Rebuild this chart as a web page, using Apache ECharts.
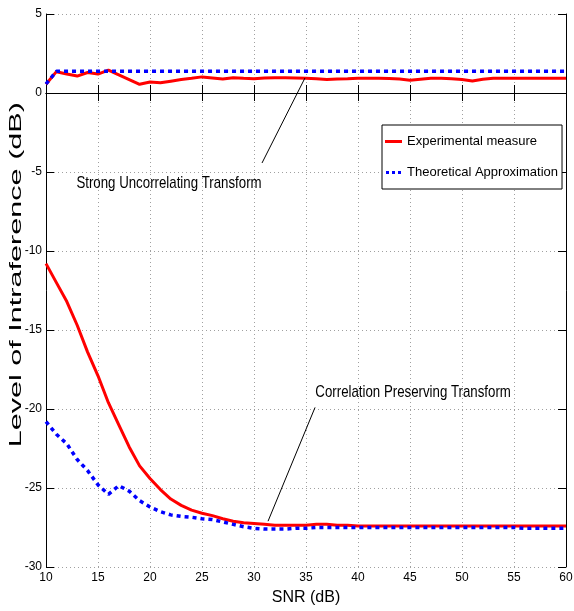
<!DOCTYPE html>
<html>
<head>
<meta charset="utf-8">
<script src="https://cdn.jsdelivr.net/npm/echarts@6/dist/echarts.min.js"></script>
<style>
  html, body { margin: 0; padding: 0; background: #fff; }
  #chart { width: 574px; height: 611px; }
</style>
</head>
<body>
<div id="chart"></div>
<script>
// SNR values 10..60 dB
const snr = [10,11,12,13,14,15,16,17,18,19,20,21,22,23,24,25,26,27,28,29,30,
  31,32,33,34,35,36,37,38,39,40,41,42,43,44,45,46,47,48,49,50,
  51,52,53,54,55,56,57,58,59,60];

// strong uncorrelating transform
const expSUT = [0.55,1.35,1.2,1.07,1.3,1.2,1.45,1.15,0.85,0.55,0.7,0.65,0.75,0.85,0.93,1.02,0.95,0.88,0.97,0.93,0.9,
  0.95,0.97,0.97,0.95,0.93,0.9,0.86,0.88,0.9,0.93,0.93,0.93,0.92,0.88,0.8,0.87,0.93,0.93,0.9,0.85,
  0.76,0.87,0.93,0.93,0.93,0.94,0.93,0.94,0.94,0.94];
const theoSUT = [0.57,1.37,1.37,1.37,1.37,1.37,1.37,1.37,1.37,1.37,1.37,1.37,1.37,1.37,1.37,1.37,1.37,1.37,1.37,1.37,1.37,
  1.37,1.37,1.37,1.37,1.37,1.37,1.37,1.37,1.37,1.37,1.37,1.37,1.37,1.37,1.37,1.37,1.37,1.37,1.37,1.37,
  1.37,1.37,1.37,1.37,1.37,1.37,1.37,1.37,1.37,1.37];

// correlation preserving transform
const expCPT = [-10.8,-12.0,-13.2,-14.7,-16.4,-17.9,-19.6,-21.0,-22.4,-23.6,-24.4,-25.1,-25.7,-26.1,-26.4,-26.6,-26.75,-26.95,-27.1,-27.2,-27.25,
  -27.3,-27.35,-27.35,-27.35,-27.35,-27.3,-27.3,-27.35,-27.35,-27.4,-27.4,-27.4,-27.4,-27.4,-27.4,-27.4,-27.4,-27.4,-27.4,-27.4,
  -27.4,-27.4,-27.4,-27.4,-27.4,-27.4,-27.4,-27.4,-27.4,-27.4];
const theoCPT = [-20.8,-21.6,-22.2,-23.2,-23.9,-24.8,-25.4,-24.85,-25.2,-25.8,-26.2,-26.5,-26.7,-26.8,-26.85,-26.95,-27.0,-27.15,-27.3,-27.45,-27.55,
  -27.6,-27.6,-27.6,-27.55,-27.55,-27.5,-27.5,-27.5,-27.5,-27.5,-27.5,-27.5,-27.5,-27.5,-27.5,-27.5,-27.5,-27.5,-27.5,-27.5,
  -27.5,-27.5,-27.5,-27.5,-27.5,-27.55,-27.55,-27.55,-27.55,-27.55];

const xTicks = [10,15,20,25,30,35,40,45,50,55,60];
const yTicks = [5,0,-5,-10,-15,-20,-25,-30];

// text notes and where their arrows point (data coords)
const notes = [
  { text: 'Strong Uncorrelating Transform', at: [21.83, -5.7], from: [30.77, -4.43], to: [34.9, 0.95] },
  { text: 'Correlation Preserving Transform', at: [45.3, -18.92], from: [35.87, -19.9], to: [31.35, -27.1] }
];

const FONT = "'Liberation Sans', Arial, sans-serif";
const RED = '#ff0000';
const BLUE = '#0000ff';

const pair = (ys) => snr.map((x, i) => [x, ys[i]]);

const chart = echarts.init(document.getElementById('chart'), null, { renderer: 'canvas' });

const gridLine = { show: true, lineStyle: { color: '#a0a0a0', type: [1, 3], width: 1 } };
const tick = { show: true, inside: true, length: 8, lineStyle: { color: '#000' } };

const option = {
  animation: false,
  backgroundColor: '#fff',
  grid: { left: 46, right: 8, top: 14, bottom: 44, outerBoundsMode: 'none', containLabel: false },
  legend: {
    orient: 'vertical',
    left: 382,
    top: 125,
    backgroundColor: '#fff',
    borderColor: '#000',
    borderWidth: 1,
    borderRadius: 0,
    padding: [10, 4, 10, 3],
    itemGap: 18,
    itemWidth: 17,
    itemHeight: 3,
    textStyle: { fontFamily: FONT, fontSize: 13, color: '#000' },
    data: [
      { name: 'Experimental measure', icon: 'rect' },
      { name: 'Theoretical Approximation', icon: 'path://M0 0H3V3H0Z M6 0H9V3H6Z M12 0H15V3H12Z' }
    ]
  },
  xAxis: [{
    type: 'value', min: 10, max: 60, interval: 5,
    name: 'SNR (dB)', nameLocation: 'middle', nameGap: 23, nameMoveOverlap: false,
    nameTextStyle: { fontFamily: FONT, fontSize: 16, color: '#000' },
    axisLine: { lineStyle: { color: '#000', width: 1 } },
    axisTick: tick,
    axisLabel: { fontFamily: FONT, fontSize: 12, color: '#000', margin: 5,
      formatter: v => xTicks.includes(v) ? String(v) : '' },
    splitLine: gridLine
  }, {
    type: 'value', min: 10, max: 60, interval: 5, position: 'top',
    axisLine: { lineStyle: { color: '#000', width: 1 } },
    axisTick: tick,
    axisLabel: { show: false }, splitLine: { show: false }
  }],
  yAxis: [{
    type: 'value', min: -30, max: 5, interval: 5,
    axisLine: { lineStyle: { color: '#000', width: 1 } },
    axisTick: tick,
    axisLabel: { fontFamily: FONT, fontSize: 12, color: '#000', margin: 4,
      formatter: v => yTicks.includes(v) ? String(v) : '' },
    splitLine: gridLine
  }, {
    type: 'value', min: -30, max: 5, interval: 5, position: 'right',
    axisLine: { show: true, lineStyle: { color: '#000', width: 1 } },
    axisTick: tick,
    axisLabel: { show: false }, splitLine: { show: false }
  }],
  series: [
    {
      name: 'Experimental measure', type: 'line', data: pair(expSUT),
      symbol: 'none', lineStyle: { color: RED, width: 3 }, itemStyle: { color: RED },
      z: 3,
      markLine: {
        silent: true, animation: false,
        symbol: ['none', 'arrow'], symbolSize: [0, 9],
        label: { show: false },
        lineStyle: { color: '#000', width: 1, type: 'solid' },
        data: notes.map(n => [{ coord: n.from }, { coord: n.to }])
      }
    },
    {
      name: 'Theoretical Approximation', type: 'line', data: pair(theoSUT),
      symbol: 'none', lineStyle: { color: BLUE, width: 3.5, type: [4, 4] }, itemStyle: { color: BLUE },
      z: 4
    },
    {
      name: 'Experimental measure', type: 'line', data: pair(expCPT),
      symbol: 'none', lineStyle: { color: RED, width: 3 }, itemStyle: { color: RED }, z: 3
    },
    {
      name: 'Theoretical Approximation', type: 'line', data: pair(theoCPT),
      symbol: 'none', lineStyle: { color: BLUE, width: 3.5, type: [4, 4] }, itemStyle: { color: BLUE }, z: 4
    }
  ]
};

chart.setOption(option);

// note texts are narrow in the original, the y title is stretched
const yMid = chart.convertToPixel({ yAxisIndex: 0 }, -11.5);
chart.setOption({
  graphic: notes.map(n => {
    const p = chart.convertToPixel({ gridIndex: 0 }, n.at);
    return {
      type: 'text', x: p[0], y: p[1], scaleX: 0.78, z: 10, silent: true,
      style: { text: n.text, fontFamily: FONT, fontSize: 17, fill: '#000',
        align: 'center', verticalAlign: 'middle' }
    };
  }).concat([{
    type: 'text', x: 16, y: yMid, rotation: Math.PI / 2, scaleX: 1.8, z: 10, silent: true,
    style: { text: 'Level of Intraference (dB)', fontFamily: FONT, fontSize: 17, fill: '#000',
      align: 'center', verticalAlign: 'middle' }
  }])
});
</script>
</body>
</html>
